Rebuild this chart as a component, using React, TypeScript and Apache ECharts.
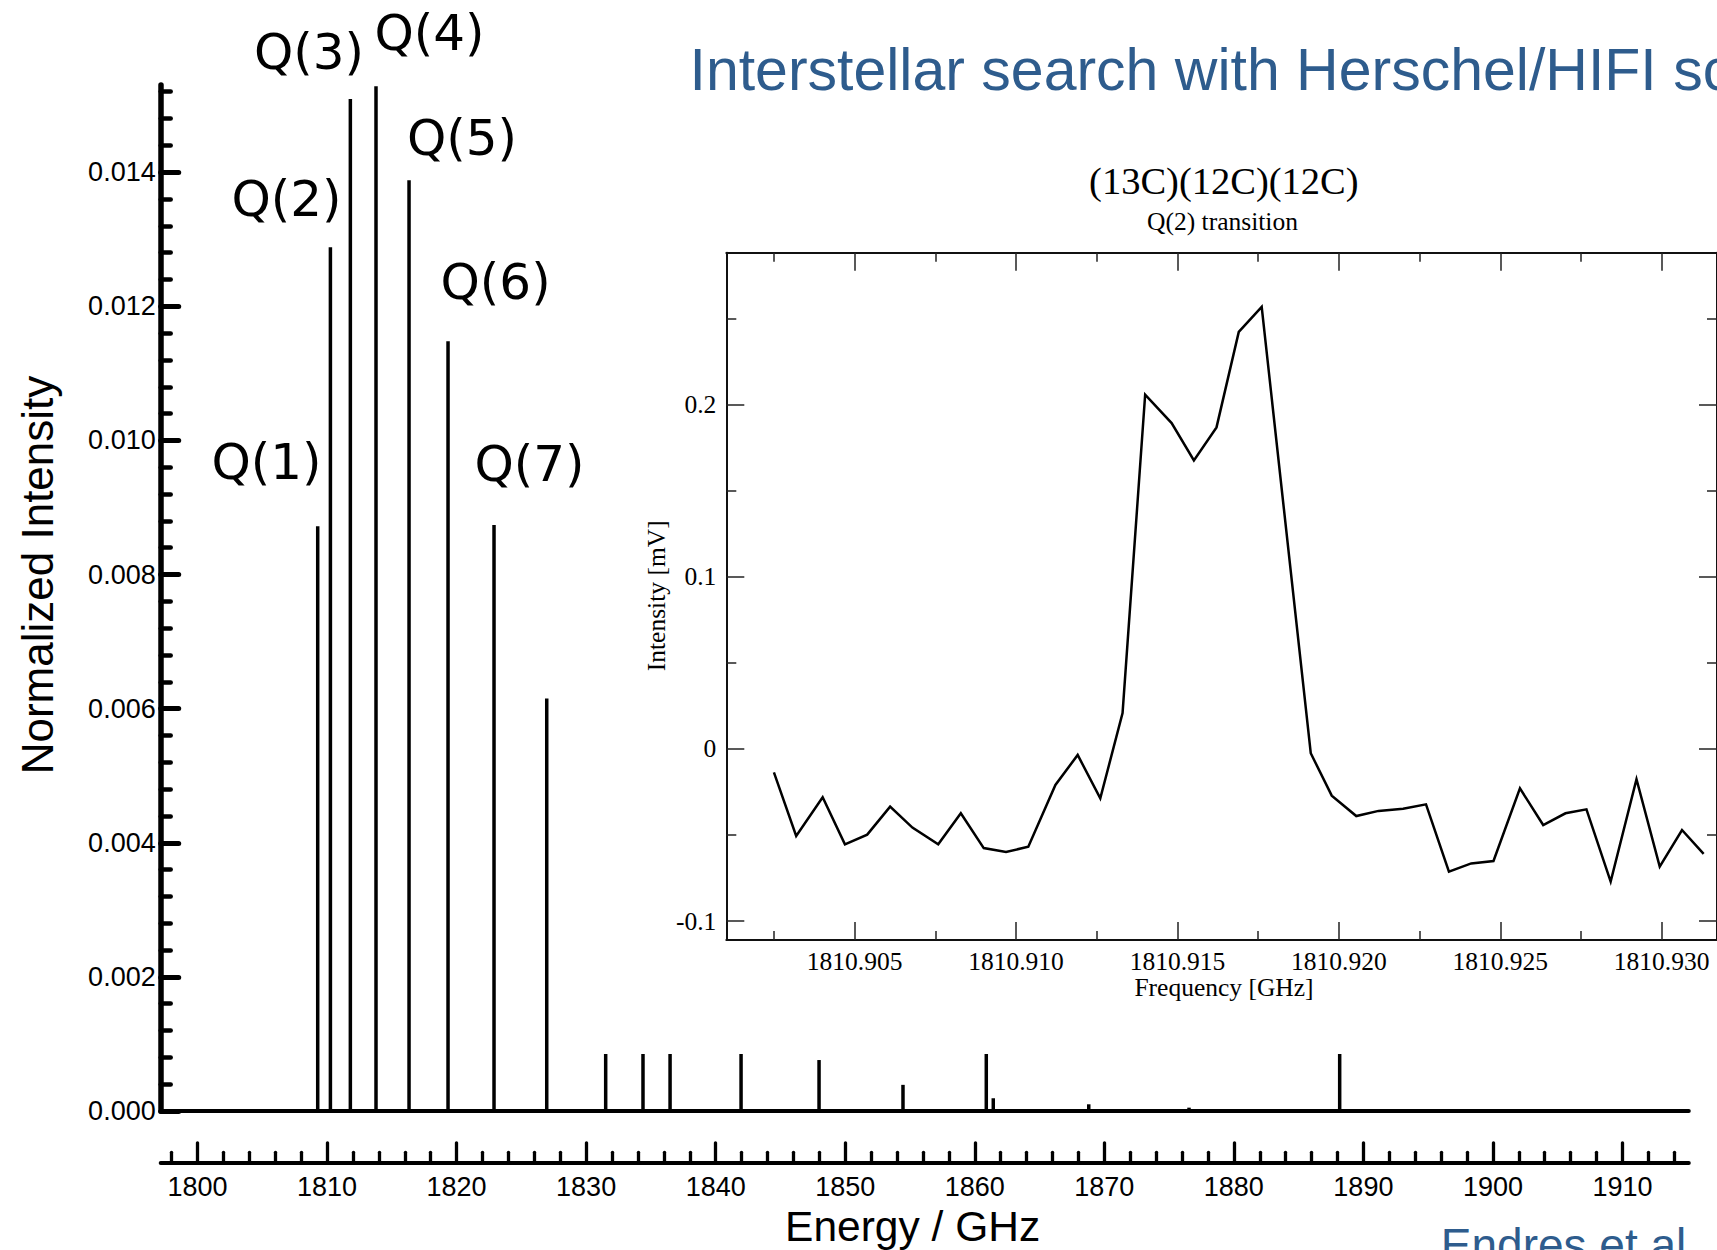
import React, { useEffect, useRef } from 'react';
import * as echarts from 'echarts';

// ---- Data: main stick spectrum (Energy / GHz vs normalized intensity)
const lineEnergies = [
  1809.28, 1810.26, 1811.8, 1813.78, 1816.33, 1819.34, 1822.89, 1826.96,
  1831.51, 1834.39, 1836.48, 1841.96, 1847.98, 1854.46, 1860.89, 1861.43,
  1868.8, 1876.54, 1884.9, 1888.17, 1893.9,
];
const lineIntensities = [
  0.00872, 0.01288, 0.01509, 0.01528, 0.01388, 0.01148, 0.00874, 0.00615,
  0.00085, 0.00085, 0.00085, 0.00085, 0.00076, 0.00039, 0.00085, 0.00019,
  0.0001, 0.00005, 0.00003, 0.00085, 0.00001,
];
const qLabels = ['Q(1)', 'Q(2)', 'Q(3)', 'Q(4)', 'Q(5)', 'Q(6)', 'Q(7)'];
const energyTicks = [1800, 1810, 1820, 1830, 1840, 1850, 1860, 1870, 1880, 1890, 1900, 1910];
const intensityTicks = [0, 0.002, 0.004, 0.006, 0.008, 0.01, 0.012, 0.014];

// ---- Data: inset observed spectrum
const insetFreqs = [
  1810.9025, 1810.90319, 1810.90401, 1810.9047, 1810.90539, 1810.9061, 1810.90679,
  1810.90759, 1810.90829, 1810.909, 1810.90969, 1810.91038, 1810.91122, 1810.91191,
  1810.91261, 1810.9133, 1810.914, 1810.91482, 1810.91551, 1810.91621, 1810.9169,
  1810.91761, 1810.91913, 1810.91978, 1810.92054, 1810.92123, 1810.92199, 1810.9227,
  1810.92341, 1810.9241, 1810.92479, 1810.92561, 1810.92633, 1810.92702, 1810.92767,
  1810.92842, 1810.92922, 1810.92994, 1810.93063, 1810.9313,
];
const insetIntensity = [
  -0.0136, -0.0506, -0.0281, -0.0554, -0.0498, -0.0335, -0.0457,
  -0.0554, -0.0374, -0.0576, -0.0599, -0.0568, -0.0209, -0.0035,
  -0.0287, 0.0208, 0.2058, 0.1893, 0.1676, 0.1868, 0.2423,
  0.2568, -0.0025, -0.0271, -0.039, -0.036, -0.0347, -0.0322,
  -0.0713, -0.0665, -0.0651, -0.0229, -0.0442, -0.0374, -0.0351,
  -0.0771, -0.0176, -0.0684, -0.0471, -0.061,
];
const insetFreqTicks = [1810.905, 1810.91, 1810.915, 1810.92, 1810.925, 1810.93];
const insetIntensityTicks = [-0.1, 0, 0.1, 0.2];

// ---- Layout (pixel positions of annotations)
const qLabelPos = [
  [266.5, 461.5], [286.5, 199], [309, 51.5], [429.5, 32.5], [462, 138], [495.6, 281.5], [529.5, 464],
];

const SANS = '"Liberation Sans", Arial, sans-serif';
const SERIF = '"Liberation Serif", "Times New Roman", serif';
const QFONT = '"DejaVu Sans", sans-serif';
const BLUE = '#2E5C8D';

function txt(text: string, x: number, y: number, size: number, family: string, color: string, align = 'center', rotation = 0) {
  return {
    type: 'text',
    x,
    y,
    rotation,
    silent: true,
    style: {
      text,
      fontSize: size,
      fontFamily: family,
      fill: color,
      align,
      verticalAlign: 'middle',
      textAlign: align,
      textVerticalAlign: 'middle',
    },
  };
}

export default function App() {
  const ref = useRef<HTMLDivElement>(null);

  useEffect(() => {
    if (!ref.current) return;
    const chart = echarts.init(ref.current, undefined, { renderer: 'svg' });

    const mainXMin = 1797.16;
    const mainXMax = 1915.12;
    const insXMin = 1810.901025;
    const insXMax = 1810.931714;
    const insYMin = -0.111;
    const insYMax = 0.2883;

    const option: any = {
      animation: false,
      backgroundColor: '#ffffff',
      grid: [
        { left: 160.7, top: 85, width: 1528.1, height: 1026, show: false },
        { left: 726.3, top: 252.7, width: 993.7, height: 687.3, show: false },
      ],
      xAxis: [
        {
          gridIndex: 0, type: 'value', min: mainXMin, max: mainXMax,
          axisLine: { show: true, onZero: false, lineStyle: { color: '#000', width: 4 } },
          axisTick: { show: false }, axisLabel: { show: false }, splitLine: { show: false },
        },
        {
          gridIndex: 0, type: 'value', min: mainXMin, max: mainXMax, position: 'bottom', offset: 51.3,
          minInterval: 10, maxInterval: 10,
          axisLine: { show: true, onZero: false, lineStyle: { color: '#000', width: 4 } },
          axisTick: { show: true, inside: true, length: 19.5, customValues: energyTicks, lineStyle: { color: '#000', width: 3.3, cap: 'round' } },
          minorTick: { show: true, splitNumber: 5, length: 10, lineStyle: { color: '#000', width: 3.3, cap: 'round' } },
          axisLabel: { show: true, customValues: energyTicks, margin: 11, fontSize: 27, fontFamily: SANS, color: '#000', formatter: (v: number) => String(Math.round(v)) },
          splitLine: { show: false }, minorSplitLine: { show: false },
        },
        {
          gridIndex: 1, type: 'value', min: insXMin, max: insXMax, position: 'bottom',
          minInterval: 0.005, maxInterval: 0.005,
          axisLine: { show: true, onZero: false, lineStyle: { color: '#111', width: 2 } },
          axisTick: { show: true, inside: true, length: 18, customValues: insetFreqTicks, lineStyle: { color: '#222', width: 1.5 } },
          minorTick: { show: true, splitNumber: 2, length: 9, lineStyle: { color: '#222', width: 1.5 } },
          axisLabel: { show: true, customValues: insetFreqTicks, margin: 8, fontSize: 25.5, fontFamily: SERIF, color: '#000', formatter: (v: number) => v.toFixed(3) },
          splitLine: { show: false },
        },
        {
          gridIndex: 1, type: 'value', min: insXMin, max: insXMax, position: 'top',
          minInterval: 0.005, maxInterval: 0.005,
          axisLine: { show: true, onZero: false, lineStyle: { color: '#111', width: 2 } },
          axisTick: { show: true, inside: true, length: 18, customValues: insetFreqTicks, lineStyle: { color: '#222', width: 1.5 } },
          minorTick: { show: true, splitNumber: 2, length: 9, lineStyle: { color: '#222', width: 1.5 } },
          axisLabel: { show: false },
          splitLine: { show: false },
        },
      ],
      yAxis: [
        {
          gridIndex: 0, type: 'value', min: 0, max: 0.0153, minInterval: 0.002, maxInterval: 0.002,
          axisLine: { show: true, onZero: false, lineStyle: { color: '#000', width: 5.5 } },
          axisTick: { show: true, inside: true, length: 18, customValues: intensityTicks, lineStyle: { color: '#000', width: 5, cap: 'round' } },
          minorTick: { show: true, splitNumber: 5, length: 10, lineStyle: { color: '#000', width: 4.5, cap: 'round' } },
          axisLabel: { show: true, customValues: intensityTicks, margin: 5, fontSize: 27, fontFamily: SANS, color: '#000', formatter: (v: number) => v.toFixed(3) },
          splitLine: { show: false },
        },
        {
          gridIndex: 1, type: 'value', min: insYMin, max: insYMax, position: 'left', minInterval: 0.1, maxInterval: 0.1,
          axisLine: { show: true, onZero: false, lineStyle: { color: '#111', width: 2 } },
          axisTick: { show: true, inside: true, length: 18, customValues: insetIntensityTicks, lineStyle: { color: '#222', width: 1.5 } },
          minorTick: { show: true, splitNumber: 2, length: 10, lineStyle: { color: '#222', width: 1.5 } },
          axisLabel: { show: true, customValues: insetIntensityTicks, margin: 10, fontSize: 25.5, fontFamily: SERIF, color: '#000', formatter: (v: number) => (Math.abs(v) < 1e-9 ? '0' : String(Math.round(v * 10) / 10)) },
          splitLine: { show: false },
        },
        {
          gridIndex: 1, type: 'value', min: insYMin, max: insYMax, position: 'right', minInterval: 0.1, maxInterval: 0.1,
          axisLine: { show: true, onZero: false, lineStyle: { color: '#111', width: 2 } },
          axisTick: { show: true, inside: true, length: 18, customValues: insetIntensityTicks, lineStyle: { color: '#222', width: 1.5 } },
          minorTick: { show: true, splitNumber: 2, length: 10, lineStyle: { color: '#222', width: 1.5 } },
          axisLabel: { show: false },
          splitLine: { show: false },
        },
      ],
      series: [
        {
          type: 'bar', xAxisIndex: 0, yAxisIndex: 0, silent: true,
          data: lineEnergies.map((e, i) => [e, lineIntensities[i]]),
          barWidth: 3.5, itemStyle: { color: '#000' },
        },
        {
          type: 'line', xAxisIndex: 2, yAxisIndex: 1, silent: true,
          data: insetFreqs.map((f, i) => [f, insetIntensity[i]]),
          showSymbol: false, symbol: 'none',
          lineStyle: { color: '#000', width: 2.5, join: 'miter' },
        },
      ],
      graphic: [
        txt('Interstellar search with Herschel/HIFI sc', 689.5, 69.6, 59, SANS, BLUE, 'left'),
        txt('Endres et al', 1440.8, 1245.3, 46, SANS, BLUE, 'left'),
        txt('Normalized Intensity', 37, 575, 44, SANS, '#000', 'center', Math.PI / 2),
        txt('Energy / GHz', 912.6, 1226, 42.5, SANS, '#000'),
        txt('(13C)(12C)(12C)', 1223.8, 181, 38.5, SERIF, '#000'),
        txt('Q(2) transition', 1222.5, 221.5, 25.5, SERIF, '#000'),
        txt('Intensity [mV]', 656, 595.8, 25.5, SERIF, '#000', 'center', Math.PI / 2),
        txt('Frequency [GHz]', 1224, 987, 25.5, SERIF, '#000'),
        ...qLabels.map((q, i) => txt(q, qLabelPos[i][0], qLabelPos[i][1], 50, QFONT, '#000')),
      ],
    };

    chart.setOption(option);
    return () => chart.dispose();
  }, []);

  return (
    <div
      ref={ref}
      style={{ position: 'fixed', left: 0, top: 0, width: 1717, height: 1250, background: '#fff' }}
    />
  );
}
